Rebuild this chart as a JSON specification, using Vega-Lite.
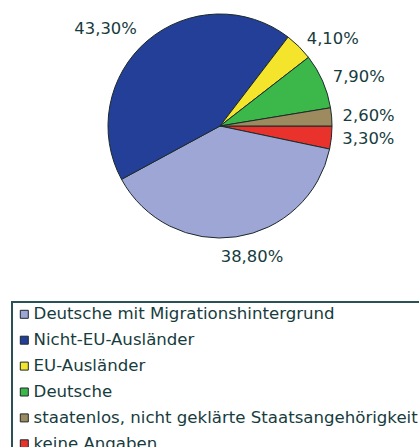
{
  "$schema": "https://vega.github.io/schema/vega-lite/v6.json",
  "autosize": {"type": "none"},
  "width": 398,
  "height": 252,
  "padding": {"left": 21, "top": 0, "right": 0, "bottom": 195},
  "background": "white",
  "data": {
    "values": [
      {"kategorie": "keine Angaben", "anteil": 3.3, "label": "3,30%", "reihenfolge": 1},
      {"kategorie": "Deutsche mit Migrationshintergrund", "anteil": 38.8, "label": "38,80%", "reihenfolge": 2},
      {"kategorie": "Nicht-EU-Ausländer", "anteil": 43.3, "label": "43,30%", "reihenfolge": 3},
      {"kategorie": "EU-Ausländer", "anteil": 4.1, "label": "4,10%", "reihenfolge": 4},
      {"kategorie": "Deutsche", "anteil": 7.9, "label": "7,90%", "reihenfolge": 5},
      {"kategorie": "staatenlos, nicht geklärte Staatsangehörigkeit", "anteil": 2.6, "label": "2,60%", "reihenfolge": 6}
    ]
  },
  "encoding": {
    "theta": {"field": "anteil", "type": "quantitative", "stack": true, "scale": {"range": [1.5708, 7.854]}},
    "order": {"field": "reihenfolge", "type": "quantitative"}
  },
  "layer": [
    {
      "mark": {"type": "arc", "outerRadius": 112, "stroke": "#1c2a2a", "strokeWidth": 1},
      "encoding": {
        "color": {
          "field": "kategorie",
          "type": "nominal",
          "scale": {
            "domain": ["Deutsche mit Migrationshintergrund", "Nicht-EU-Ausländer", "EU-Ausländer", "Deutsche", "staatenlos, nicht geklärte Staatsangehörigkeit", "keine Angaben"],
            "range": ["#9ea6d6", "#233f98", "#f4e42c", "#3cb84b", "#9d8a5e", "#e8322b"]
          },
          "legend": {
            "title": null,
            "orient": "none",
            "legendX": -9,
            "legendY": 302,
            "symbolType": "square",
            "symbolSize": 64,
            "symbolStrokeColor": "#1c2a2a",
            "symbolStrokeWidth": 1,
            "symbolOpacity": 1,
            "labelFont": "DejaVu Sans",
            "labelFontSize": 16.6,
            "labelColor": "#173c3e",
            "labelOffset": 1,
            "labelLimit": 0,
            "rowPadding": 8.9,
            "padding": 4,
            "strokeColor": "#2a5254",
            "fillColor": "white",
            "encode": {"legend": {"update": {"strokeWidth": {"value": 2}}}}
          }
        }
      }
    },
    {
      "mark": {"type": "text", "radius": 123, "font": "DejaVu Sans", "fontSize": 16.4, "color": "#173c3e", "align": "left", "baseline": "middle"},
      "encoding": {
        "text": {"condition": {"test": "datum.reihenfolge != 2 && datum.reihenfolge != 3", "field": "label"}, "value": ""}
      }
    },
    {
      "mark": {"type": "text", "radius": 128, "font": "DejaVu Sans", "fontSize": 16.4, "color": "#173c3e", "align": "right", "baseline": "middle"},
      "encoding": {
        "text": {"condition": {"test": "datum.reihenfolge == 3", "field": "label"}, "value": ""}
      }
    },
    {
      "mark": {"type": "text", "radius": 132, "dx": 13, "font": "DejaVu Sans", "fontSize": 16.4, "color": "#173c3e", "align": "center", "baseline": "middle"},
      "encoding": {
        "text": {"condition": {"test": "datum.reihenfolge == 2", "field": "label"}, "value": ""}
      }
    }
  ]
}
